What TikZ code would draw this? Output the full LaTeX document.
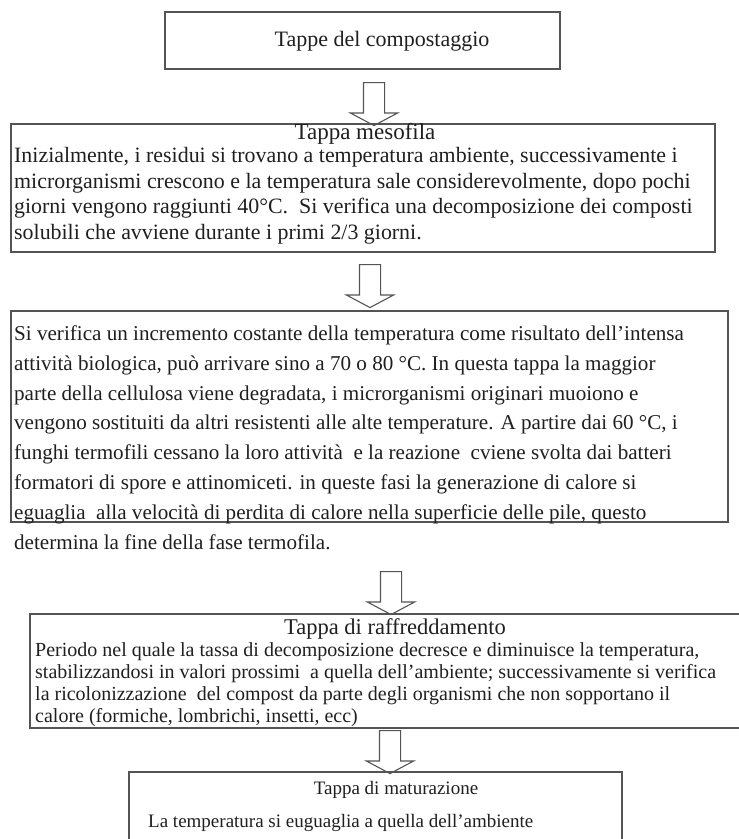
\documentclass[tikz,border=0pt]{standalone}
\usepackage{fontspec}
\setmainfont{Liberation Serif}
\usetikzlibrary{shapes.arrows, positioning, calc}
\definecolor{boxgray}{rgb}{0.33,0.33,0.33}

\begin{document}
\begin{tikzpicture}[x=1pt,y=-1pt,
    box/.style={draw=boxgray,line width=1.3pt,inner sep=0pt,outer sep=0pt},
    downarr/.style={single arrow,draw=boxgray,line width=1.1pt,shape border rotate=270,inner sep=10pt,
      minimum height=43pt,single arrow head extend=13pt,single arrow tip angle=124,anchor=tail},
    txt/.style={inner sep=0pt,align=left,anchor=north west,text=black!88},
    ttl/.style={inner sep=0pt,text=black!88}]
        \useasboundingbox (0,0) rectangle (739,839);
        \clip (0,0) rectangle (739,839);
        % Boxes
        \draw (362.5,40.5) node[box,minimum width=395pt,minimum height=57pt] (st_0){};
        \draw (363,188) node[box,minimum width=704pt,minimum height=128pt] (st_1){};
        \draw (369.5,416.5) node[box,minimum width=717pt,minimum height=211pt] (st_2){};
        \draw (387.5,671) node[box,minimum width=715pt,minimum height=114pt] (st_3){};
        \draw (375.5,811) node[box,minimum width=493pt,minimum height=78pt] (st_4){};
        % Titles
        \draw (382,41) node[ttl,font=\fontsize{22}{26}\selectfont] (tt_0){Tappe del compostaggio};
        \draw (365,134) node[ttl,font=\fontsize{23}{26}\selectfont] (tt_1){Tappa mesofila};
        \draw (395,629) node[ttl,font=\fontsize{22.5}{25}\selectfont] (tt_3){Tappa di raffreddamento};
        \draw (396,790) node[ttl,font=\fontsize{19}{22}\selectfont] (tt_4){Tappa di maturazione};
        % Texts
        \draw (14,147.5) node[txt,font=\fontsize{21.9}{25.5}\selectfont] (tx_1){Inizialmente, i residui si trovano a temperatura ambiente, successivamente i\\
          microrganismi crescono e la temperatura sale considerevolmente, dopo pochi\\
          giorni vengono raggiunti 40°C.~~Si verifica una decomposizione dei composti\\
          solubili che avviene durante i primi 2/3 giorni.};
        \draw (14,325.5) node[txt,font=\fontsize{21.1}{29.8}\selectfont] (tx_2){Si verifica un incremento costante della temperatura come risultato dell'intensa\\
          attività biologica, può arrivare sino a 70 o 80 °C. In questa tappa la maggior\\
          parte della cellulosa viene degradata, i microrganismi originari muoiono e\\
          vengono sostituiti da altri resistenti alle alte temperature. A partire dai 60 °C, i\\
          funghi termofili cessano la loro attività~ e la reazione~ cviene svolta dai batteri\\
          formatori di spore e attinomiceti. in queste fasi la generazione di calore si\\
          eguaglia~ alla velocità di perdita di calore nella superficie delle pile, questo\\
          determina la fine della fase termofila.};
        \draw (35,642) node[txt,font=\fontsize{20}{22}\selectfont] (tx_3){Periodo nel quale la tassa di decomposizione decresce e diminuisce la temperatura,\\
          stabilizzandosi in valori prossimi~ a quella dell'ambiente; successivamente si verifica\\
          la ricolonizzazione~ del compost da parte degli organismi che non sopportano il\\
          calore (formiche, lombrichi, insetti, ecc)};
        \draw (148,814) node[txt,font=\fontsize{19}{22}\selectfont] (tx_4){La temperatura si euguaglia a quella dell'ambiente};
        % Arrows between the stages
        \node[downarr] (ar_0) at ([xshift=11.5pt,yshift=-13pt]st_0.south) {};
        \node[downarr] (ar_1) at ([xshift=7pt,yshift=-12pt]st_1.south) {};
        \node[downarr] (ar_2) at ([xshift=21.5pt,yshift=-49pt]st_2.south) {};
        \node[downarr] (ar_3) at ([xshift=2.5pt,yshift=-2pt]st_3.south) {};
\end{tikzpicture}
\end{document}
